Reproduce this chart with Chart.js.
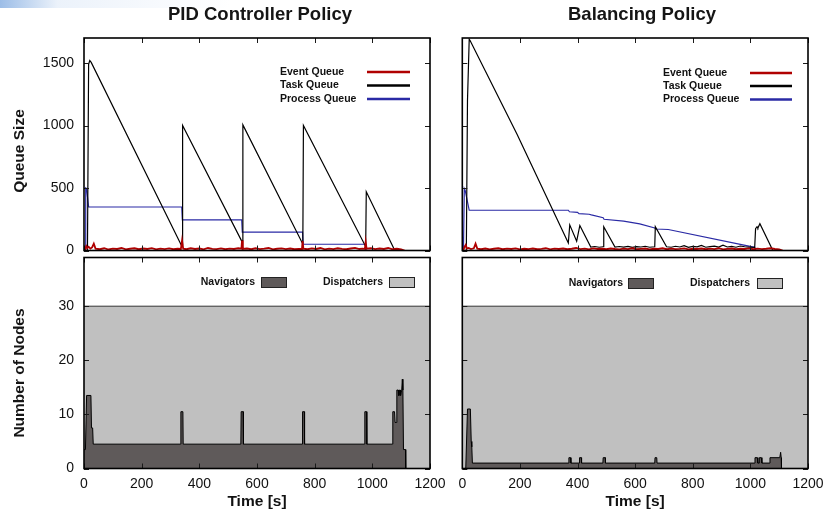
<!DOCTYPE html>
<html>
<head>
<meta charset="utf-8">
<title>PID Controller vs Balancing Policy</title>
<script src="https://cdn.jsdelivr.net/npm/chart.js@4.4.0/dist/chart.umd.min.js"></script>
<style>
  html, body { margin: 0; padding: 0; background: #fff; }
  #wrap { position: relative; width: 827px; height: 523px; overflow: hidden; background: #fff; }
  #wrap canvas { position: absolute; left: 0; top: 0; }
  #haze { position: absolute; left: 0; top: 0; width: 230px; height: 8px;
          background: linear-gradient(to right, rgba(90,145,215,0.6), rgba(190,212,240,0.3) 25%, rgba(255,255,255,0)); }
</style>
</head>
<body>
<div id="wrap">
  <div id="haze"></div>
  <canvas id="pidQueue" width="827" height="523"></canvas>
  <canvas id="balQueue" width="827" height="523"></canvas>
  <canvas id="pidNodes" width="827" height="523"></canvas>
  <canvas id="balNodes" width="827" height="523"></canvas>
</div>
<script>
// ---------- Data: queue sizes (time in s) ----------
const PID_TASK_T = [0, 12, 16, 20, 25, 338, 340, 342, 547, 549, 551, 757, 759, 761, 975, 977, 979, 1078, 1110];
const PID_TASK_V = [0, 0, 1490, 1520, 1505, 40, 45, 1000, 75, 80, 1005, 60, 65, 1000, 40, 45, 470, 0, 0];

const PID_PROC_T = [0, 4, 6, 9, 16, 339, 341, 547, 549, 758, 760, 976, 978, 1110];
const PID_PROC_V = [0, 0, 500, 495, 348, 348, 245, 245, 147, 147, 50, 50, 0, 0];

const PID_EVENT_T = [
  0, 4, 8, 12, 16, 22, 28, 34, 40, 55, 70, 85, 100, 115, 130, 145, 160, 175, 190, 205,
  220, 235, 250, 265, 280, 295, 310, 325, 336, 340, 344, 355, 370, 385, 400, 415, 430, 445, 460, 475,
  490, 505, 520, 535, 546, 548, 551, 565, 580, 595, 610, 625, 640, 655, 670, 685, 700, 715, 730, 745,
  756, 758, 761, 775, 790, 805, 820, 835, 850, 865, 880, 895, 910, 925, 940, 955, 966, 974, 977, 980,
  995, 1010, 1025, 1040, 1055, 1070, 1085, 1100, 1112
];
const PID_EVENT_V = [
  0, 5, 35, 20, 30, 15, 25, 55, 15, 10, 18, 8, 15, 12, 20, 9, 14, 18, 10, 16,
  12, 19, 9, 15, 11, 17, 10, 14, 12, 80, 15, 10, 18, 12, 16, 9, 20, 13, 11, 17,
  10, 15, 12, 18, 14, 80, 12, 16, 10, 18, 11, 15, 20, 9, 14, 17, 11, 16, 10, 13,
  12, 75, 14, 10, 17, 12, 20, 9, 15, 11, 18, 13, 10, 16, 21, 12, 15, 12, 70, 14,
  18, 11, 16, 12, 20, 10, 14, 8, 0
];

const BAL_TASK_T = [
  0, 14, 18, 24, 27, 190, 368, 373, 397, 408, 446, 460, 475, 489, 491, 530,
  545, 560, 575, 590, 605, 620, 635, 650, 668, 670, 709, 725, 740, 755, 770, 785, 800, 815, 830, 845,
  860, 875, 890, 905, 920, 935, 950, 965, 980, 995, 1015, 1018, 1023, 1026, 1033, 1078
];
const BAL_TASK_V = [
  0, 0, 1200, 1690, 1680, 930, 60, 205, 75, 200, 28, 32, 26, 30, 190, 28,
  32, 27, 33, 25, 31, 28, 34, 26, 30, 190, 30, 26, 34, 28, 38, 25, 33, 29, 40, 26,
  31, 35, 27, 42, 28, 33, 26, 36, 30, 27, 25, 175, 190, 180, 215, 0
];

const BAL_PROC_T = [0, 4, 7, 10, 24, 368, 372, 400, 405, 440, 448, 489, 492, 560, 616, 668, 672, 715, 1015, 1019, 1110];
const BAL_PROC_V = [0, 0, 495, 480, 322, 322, 310, 305, 295, 290, 285, 262, 250, 235, 213, 180, 172, 168, 25, 0, 0];

const BAL_EVENT_T = [
  0, 4, 8, 12, 16, 22, 30, 40, 46, 52, 65, 80, 95, 110, 125, 140, 155, 170, 185, 200,
  215, 230, 245, 260, 275, 290, 305, 320, 335, 350, 365, 380, 395, 410, 425, 440, 455, 470, 485, 500,
  515, 530, 545, 560, 575, 590, 605, 620, 635, 650, 665, 680, 695, 710, 725, 740, 755, 770, 785, 800,
  815, 830, 845, 860, 875, 890, 905, 920, 935, 950, 965, 980, 995, 1010, 1025, 1040, 1055, 1070, 1085, 1100,
  1112
];
const BAL_EVENT_V = [
  0, 5, 30, 45, 15, 20, 12, 18, 55, 15, 10, 16, 9, 14, 18, 10, 15, 12, 17, 9,
  14, 11, 16, 10, 13, 18, 9, 15, 12, 16, 10, 14, 20, 11, 15, 9, 17, 12, 14, 10,
  16, 12, 9, 15, 11, 18, 10, 13, 16, 9, 14, 12, 18, 10, 15, 11, 13, 17, 9, 14,
  12, 16, 10, 15, 11, 18, 9, 13, 16, 10, 14, 12, 17, 10, 15, 11, 14, 18, 12, 9,
  0
];

// ---------- Data: number of nodes ----------
const PID_NAV_T = [
  0, 5, 9, 24, 26, 30, 32, 335, 336, 343, 344, 544, 545, 552, 553, 757, 758, 764, 765, 973,
  974, 980, 981, 1069, 1071, 1077, 1079, 1083, 1085, 1090, 1091, 1093, 1094, 1097, 1098, 1102, 1104, 1106, 1108, 1115,
  1116
];
const PID_NAV_V = [
  3.5, 3.5, 13.5, 13.5, 7.5, 7.5, 4.5, 4.5, 10.5, 10.5, 4.5, 4.5, 10.5, 10.5, 4.5, 4.5, 10.5, 10.5, 4.5, 4.5,
  10.5, 10.5, 4.5, 4.5, 10.5, 10.5, 8.5, 8.5, 14.5, 14.5, 13.5, 13.5, 14.5, 14.5, 13.5, 14.5, 16.5, 14.5, 3.5, 3.5,
  0
];

const BAL_NAV_T = [
  0, 12, 18, 28, 31, 33, 35, 369, 370, 376, 377, 406, 407, 413, 414, 488, 489, 496, 497, 668,
  669, 675, 676, 1015, 1016, 1024, 1026, 1030, 1031, 1038, 1040, 1067, 1068, 1102, 1105, 1107, 1108
];
const BAL_NAV_V = [
  0, 0, 11, 11, 5, 4, 1, 1, 2, 2, 1, 1, 2, 2, 1, 1, 2, 2, 1, 1,
  2, 2, 1, 1, 2, 2, 1, 1, 2, 2, 1, 1, 2, 2, 3, 2, 0
];

const DISP_T = [0, 1200];
const DISP_V = [30, 30];

// ---------- Axes ----------
const X_MIN = 0, X_MAX = 1200;
const X_TICKS = [0, 200, 400, 600, 800, 1000, 1200];
const QUEUE_MAX = 1700;
const QUEUE_TICKS = [0, 500, 1000, 1500];
const NODES_MAX = 39;
const NODE_TICKS = [0, 10, 20, 30];

const QUEUE_LABELS = ["Event Queue", "Task Queue", "Process Queue"];
const QUEUE_COLORS = ["#b00000", "#000000", "#2a2aa5"];
const NODE_LABELS = ["Navigators", "Dispatchers"];
const NODE_COLORS = ["#5f5a5a", "#c0c0c0"];

const toPoints = (ts, vs) => ts.map((t, i) => ({ x: t, y: vs[i] }));

Chart.defaults.font.family = "'Liberation Sans', Arial, Helvetica, sans-serif";
Chart.defaults.color = "#000";

// ---------- Plugins: gnuplot-like frame, inside ticks, key, titles ----------
const framePlugin = {
  id: "gpFrame",
  afterDatasetsDraw(chart) {
    const { ctx, chartArea: a, scales: { x, y } } = chart;
    ctx.save();
    ctx.strokeStyle = "#1a1a1a";
    ctx.lineWidth = 1;
    ctx.beginPath();
    x.ticks.forEach(t => {
      const px = Math.round(x.getPixelForValue(t.value)) + 0.5;
      ctx.moveTo(px, a.bottom); ctx.lineTo(px, a.bottom - 5);
      ctx.moveTo(px, a.top);    ctx.lineTo(px, a.top + 5);
    });
    y.ticks.forEach(t => {
      const py = Math.round(y.getPixelForValue(t.value)) + 0.5;
      ctx.moveTo(a.left, py);  ctx.lineTo(a.left + 5, py);
      ctx.moveTo(a.right, py); ctx.lineTo(a.right - 5, py);
    });
    ctx.stroke();
    ctx.strokeStyle = "#000";
    ctx.lineWidth = 1.6;
    ctx.strokeRect(a.left, a.top, a.width, a.height);
    ctx.restore();
  }
};

const keyPlugin = {
  id: "gpKey",
  afterDraw(chart, args, opts) {
    if (!opts || !opts.kind) return;
    const { ctx } = chart;
    const sets = chart.data.datasets;
    ctx.save();
    ctx.font = "bold 10.5px 'Liberation Sans', Arial, sans-serif";
    ctx.fillStyle = "#111";
    ctx.textBaseline = "middle";
    if (opts.kind === "line") {
      sets.forEach((ds, i) => {
        const y = opts.rows[i];
        ctx.textAlign = "left";
        ctx.fillText(ds.label, opts.textX, y);
        ctx.strokeStyle = ds.borderColor;
        ctx.lineWidth = 2.6;
        ctx.beginPath();
        ctx.moveTo(opts.lineX0, y); ctx.lineTo(opts.lineX1, y);
        ctx.stroke();
      });
    } else {
      sets.forEach((ds, i) => {
        const it = opts.items[i];
        ctx.textAlign = "right";
        ctx.fillStyle = "#111";
        ctx.fillText(ds.label, it.textRight, opts.y);
        ctx.fillStyle = ds.backgroundColor;
        ctx.fillRect(it.box, opts.y - 5, 25, 10);
        ctx.strokeStyle = "#222";
        ctx.lineWidth = 1;
        ctx.strokeRect(it.box + 0.5, opts.y - 4.5, 25, 10);
      });
    }
    ctx.restore();
  }
};

// panel title and rotated y title, placed where gnuplot put them
const textPlugin = {
  id: "gpText",
  afterDraw(chart, args, opts) {
    if (!opts) return;
    const { ctx } = chart;
    ctx.save();
    ctx.fillStyle = "#151515";
    if (opts.title) {
      ctx.font = "bold 18.5px 'Liberation Sans', Arial, sans-serif";
      ctx.textAlign = "center";
      ctx.textBaseline = "alphabetic";
      ctx.fillText(opts.title.text, opts.title.x, opts.title.y);
    }
    if (opts.yTitle) {
      ctx.translate(opts.yTitle.x, opts.yTitle.y);
      ctx.rotate(-Math.PI / 2);
      ctx.font = "bold 15.5px 'Liberation Sans', Arial, sans-serif";
      ctx.textAlign = "center";
      ctx.textBaseline = "middle";
      ctx.fillText(opts.yTitle.text, 0, 0);
    }
    ctx.restore();
  }
};

// the frame is fixed by the layout padding, so label overhang must not shrink it
function noOverhang(s) {
  s.paddingLeft = 0; s.paddingRight = 0; s.paddingTop = 0; s.paddingBottom = 0;
}

// ---------- Chart builders ----------
function xScale(showLabels) {
  return {
    type: "linear",
    min: X_MIN, max: X_MAX,
    grid: { display: false, drawTicks: false },
    border: { display: false },
    ticks: {
      display: showLabels, padding: 7, maxRotation: 0, autoSkip: false,
      font: { size: 14 }, color: "#111",
      callback: v => String(v)
    },
    afterBuildTicks(s) { s.ticks = X_TICKS.map(v => ({ value: v })); },
    title: {
      display: showLabels, text: "Time [s]", color: "#111",
      font: { size: 15.5, weight: "bold" }, padding: { top: 0, bottom: 11.7 }
    },
    afterFit(s) { s.height = showLabels ? 523 - 468.5 : 0; noOverhang(s); }
  };
}

function yScale(max, tickList, showLabels, width) {
  return {
    type: "linear",
    min: 0, max: max,
    grid: { display: false, drawTicks: false },
    border: { display: false },
    ticks: { display: showLabels, padding: 10, font: { size: 14 }, color: "#111", callback: v => String(v) },
    afterBuildTicks(s) { s.ticks = tickList.map(v => ({ value: v })); },
    afterFit(s) { s.width = width; noOverhang(s); }
  };
}

function makeQueueChart(id, series, left, right, key, text) {
  const datasets = series.map((s, i) => ({
    label: QUEUE_LABELS[i],
    data: toPoints(s[0], s[1]),
    borderColor: QUEUE_COLORS[i],
    borderWidth: i === 0 ? 1.8 : 1.2,
    pointRadius: 0,
    fill: false,
    tension: 0
  }));
  return new Chart(document.getElementById(id), {
    type: "line",
    data: { datasets },
    options: {
      responsive: false,
      animation: false,
      events: [],
      layout: { padding: { left: 0, top: 38, right: 827 - right, bottom: 523 - 250.5 } },
      scales: { x: xScale(false), y: yScale(QUEUE_MAX, QUEUE_TICKS, left === 84, left) },
      plugins: {
        legend: { display: false },
        tooltip: { enabled: false },
        gpKey: key,
        gpText: text
      }
    },
    plugins: [framePlugin, keyPlugin, textPlugin]
  });
}

function makeNodeChart(id, nav, left, right, key, text) {
  const datasets = [
    {
      label: NODE_LABELS[0],
      data: toPoints(nav[0], nav[1]),
      borderColor: "#000", borderWidth: 1,
      backgroundColor: NODE_COLORS[0],
      fill: "origin", pointRadius: 0, tension: 0
    },
    {
      label: NODE_LABELS[1],
      data: toPoints(DISP_T, DISP_V),
      borderColor: "#333", borderWidth: 1,
      backgroundColor: NODE_COLORS[1],
      fill: "origin", pointRadius: 0, tension: 0
    }
  ];
  return new Chart(document.getElementById(id), {
    type: "line",
    data: { datasets },
    options: {
      responsive: false,
      animation: false,
      events: [],
      layout: { padding: { left: 0, top: 257.5, right: 827 - right, bottom: 0 } },
      scales: { x: xScale(true), y: yScale(NODES_MAX, NODE_TICKS, left === 84, left) },
      plugins: {
        legend: { display: false },
        tooltip: { enabled: false },
        gpKey: key,
        gpText: text
      }
    },
    plugins: [framePlugin, keyPlugin, textPlugin]
  });
}

function start() {
  makeQueueChart("pidQueue",
    [[PID_EVENT_T, PID_EVENT_V], [PID_TASK_T, PID_TASK_V], [PID_PROC_T, PID_PROC_V]],
    84, 430,
    { kind: "line", textX: 280, lineX0: 367, lineX1: 410, rows: [72, 85.5, 99] },
    { title: { text: "PID Controller Policy", x: 260, y: 20 },
      yTitle: { text: "Queue Size", x: 19.5, y: 151 } });

  makeQueueChart("balQueue",
    [[BAL_EVENT_T, BAL_EVENT_V], [BAL_TASK_T, BAL_TASK_V], [BAL_PROC_T, BAL_PROC_V]],
    462.3, 808,
    { kind: "line", textX: 663, lineX0: 750, lineX1: 792, rows: [73, 86, 99.5] },
    { title: { text: "Balancing Policy", x: 642, y: 20 } });

  makeNodeChart("pidNodes", [PID_NAV_T, PID_NAV_V], 84, 430,
    { kind: "box", y: 282, items: [{ textRight: 255, box: 261 }, { textRight: 383, box: 389 }] },
    { yTitle: { text: "Number of Nodes", x: 19.5, y: 373 } });

  makeNodeChart("balNodes", [BAL_NAV_T, BAL_NAV_V], 462.3, 808,
    { kind: "box", y: 283, items: [{ textRight: 623, box: 628 }, { textRight: 750, box: 757 }] },
    null);
}

document.addEventListener("DOMContentLoaded", start);
</script>
</body>
</html>
